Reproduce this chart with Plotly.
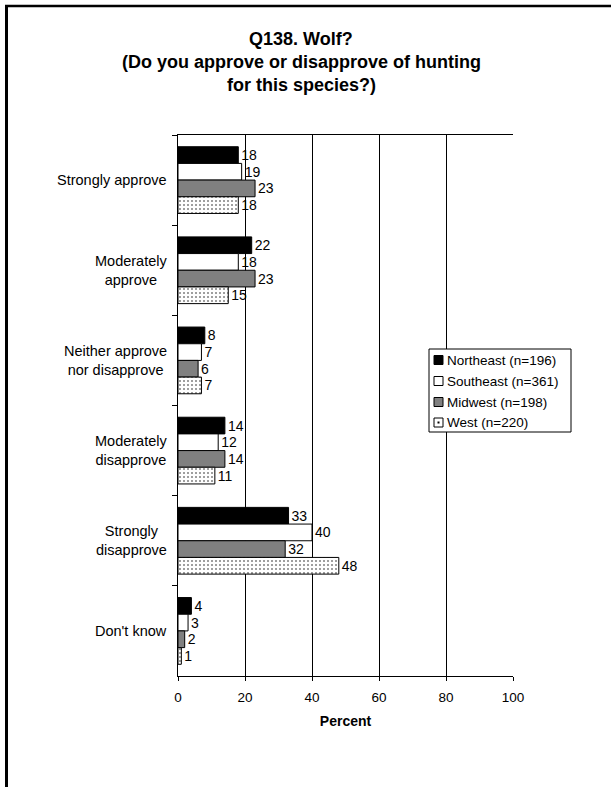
import plotly.graph_objects as go

categories = ["Strongly approve", "Moderately approve", "Neither approve nor disapprove",
              "Moderately disapprove", "Strongly disapprove", "Don't know"]
category_labels = ["Strongly approve", "Moderately<br>approve", "Neither approve<br>nor disapprove",
                   "Moderately<br>disapprove", "Strongly<br>disapprove", "Don't know"]
series_names = ["Northeast (n=196)", "Southeast (n=361)", "Midwest (n=198)", "West (n=220)"]
northeast = [18, 22, 8, 14, 33, 4]
southeast = [19, 18, 7, 12, 40, 3]
midwest = [23, 23, 6, 14, 32, 2]
west = [18, 15, 7, 11, 48, 1]
x_ticks = [0, 20, 40, 60, 80, 100]
title_lines = ["Q138. Wolf?", "(Do you approve or disapprove of hunting", "for this species?)"]

W, H = 611, 787
L, R, T, B = 178, 513, 135, 676
FONT = "Arial, Liberation Sans, sans-serif"


def px2x(px):
    return (px - L) / (R - L)


def py2y(py):
    return (B - py) / (B - T)


series = [northeast, southeast, midwest, west]
styles = [
    dict(color="#000000"),
    dict(color="#ffffff"),
    dict(color="#808080"),
    dict(color="#ffffff", pattern=dict(shape=".", fgcolor="#000000", bgcolor="#ffffff",
                                        size=4, solidity=0.2)),
]

fig = go.Figure()
for name, vals, st in zip(series_names, series, styles):
    fig.add_trace(go.Bar(
        y=categories, x=vals, name=name, orientation="h",
        marker=dict(line=dict(color="#000000", width=1), **st),
        text=[str(v) for v in vals], textposition="outside",
        textfont=dict(family=FONT, size=14, color="#000000"),
        constraintext="none", cliponaxis=False, showlegend=False,
    ))

annotations = []
for cat, lab in zip(categories, category_labels):
    annotations.append(dict(x=px2x(169), xref="paper", y=cat, yref="y", text=lab,
                            showarrow=False, xanchor="right", yanchor="middle", align="center",
                            font=dict(family=FONT, size=14.5, color="#000000")))
for line, py in zip(title_lines, [39, 62, 85]):
    annotations.append(dict(x=px2x(301), xref="paper", y=py2y(py), yref="paper",
                            text="<b>" + line + "</b>", showarrow=False,
                            xanchor="center", yanchor="middle",
                            font=dict(family=FONT, size=18, color="#000000")))

shapes = []
shapes.append(dict(type="line", xref="paper", yref="paper", x0=px2x(6.5), x1=px2x(6.5),
                   y0=py2y(5), y1=py2y(800), line=dict(color="#000000", width=3)))
shapes.append(dict(type="line", xref="paper", yref="paper", x0=px2x(5), x1=px2x(620),
                   y0=py2y(6), y1=py2y(6), line=dict(color="#000000", width=2.5)))

lx0, lx1, ly0, ly1 = 429, 571, 349, 432
shapes.append(dict(type="rect", xref="paper", yref="paper", x0=px2x(lx0), x1=px2x(lx1),
                   y0=py2y(ly0), y1=py2y(ly1), line=dict(color="#000000", width=1),
                   fillcolor="#ffffff", layer="above"))
item_y = [360, 381, 402, 422.5]
sym_fill = ["#000000", "#ffffff", "#808080", "#ffffff"]
for name, cy, fc in zip(series_names, item_y, sym_fill):
    shapes.append(dict(type="rect", xref="paper", yref="paper", x0=px2x(434), x1=px2x(443),
                       y0=py2y(cy - 4.5), y1=py2y(cy + 4.5), fillcolor=fc,
                       line=dict(color="#000000", width=1), layer="above"))
    annotations.append(dict(x=px2x(445), xref="paper", y=py2y(cy), yref="paper", text=name,
                            showarrow=False, xanchor="left", yanchor="middle",
                            font=dict(family=FONT, size=13.5, color="#000000")))
cy = item_y[3]
shapes.append(dict(type="rect", xref="paper", yref="paper", x0=px2x(437.5), x1=px2x(439.5),
                   y0=py2y(cy - 1), y1=py2y(cy + 1), fillcolor="#000000",
                   line=dict(width=0), layer="above"))

fig.update_layout(
    width=W, height=H,
    margin=dict(l=L, r=W - R, t=T, b=H - B, pad=0),
    paper_bgcolor="#ffffff", plot_bgcolor="#ffffff",
    barmode="group", bargap=0.26, bargroupgap=0,
    showlegend=False,
    font=dict(family=FONT, size=14, color="#000000"),
    xaxis=dict(range=[0, 100], tickvals=x_ticks, ticktext=[str(t) for t in x_ticks],
               ticks="outside", ticklen=4, tickcolor="#000000", ticklabelstandoff=5,
               showgrid=True, gridcolor="#000000", gridwidth=1,
               showline=True, linecolor="#000000", linewidth=1, mirror=True,
               zeroline=False, fixedrange=True,
               tickfont=dict(family=FONT, size=13.5, color="#000000"),
               title=dict(text="<b>Percent</b>", standoff=11,
                          font=dict(family=FONT, size=14, color="#000000"))),
    yaxis=dict(type="category", categoryorder="array", categoryarray=categories,
               autorange="reversed", tickson="boundaries", ticks="outside", ticklen=5,
               tickcolor="#000000", showline=True, linecolor="#000000", linewidth=1,
               showgrid=False, showticklabels=False, zeroline=False, fixedrange=True),
    annotations=annotations,
    shapes=shapes,
)

fig.write_html("out.html", config={"displayModeBar": False},
               post_script="document.body.style.margin='0px';")
